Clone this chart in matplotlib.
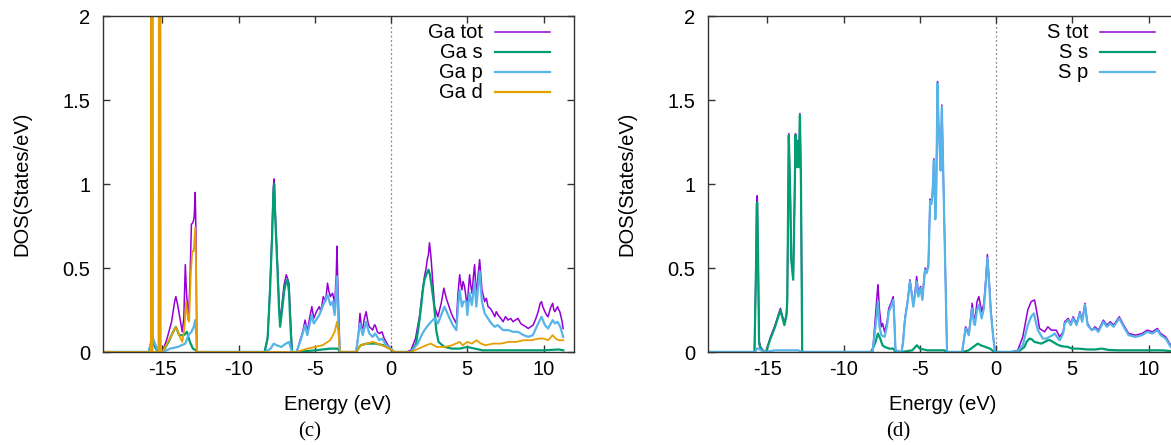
import matplotlib
matplotlib.use("Agg")
import matplotlib.pyplot as plt

plt.rcParams['font.family'] = ['Liberation Sans', 'DejaVu Sans']
plt.rcParams['axes.unicode_minus'] = False

# gnuplot default line colours
PURPLE = '#9400d3'
GREEN = '#009e73'
CYAN = '#56b4e9'
ORANGE = '#e69f00'

# ---------------- Ga projected DOS ----------------
ga_tot_e = [-18.9, -15.9, -15.76, -15.74, -15.66, -15.64, -15.4, -15.25, -15.22, -15.15, -15.13, -15.0,
            -14.7, -14.4, -14.2, -14.12, -14.0, -13.85, -13.7, -13.6, -13.5, -13.42, -13.3, -13.2,
            -13.1, -13.0, -12.92, -12.85, -12.8, -12.74,
            -8.3, -8.1, -7.95, -7.8, -7.72, -7.67, -7.6, -7.45, -7.35, -7.28, -7.15, -7.02, -6.88,
            -6.8, -6.7, -6.6, -6.5,
            -6.2, -6.0, -5.8, -5.64, -5.5, -5.35, -5.2, -5.07, -4.9, -4.71, -4.6, -4.45, -4.3, -4.17,
            -4.08, -3.98, -3.84, -3.7, -3.6, -3.55, -3.5, -3.45, -3.36,
            -2.3, -2.15, -2.04, -1.95, -1.86, -1.75, -1.64, -1.5, -1.43, -1.3, -1.21, -1.1, -1.04,
            -0.9, -0.77, -0.6, -0.45, -0.2, 0.0, 0.2,
            1.0, 1.3, 1.6, 1.86, 2.05, 2.19, 2.3, 2.37, 2.45, 2.52, 2.58, 2.63, 2.75, 2.85, 3.07,
            3.18, 3.29, 3.46, 3.62, 3.8, 3.95, 4.1, 4.28, 4.39, 4.5, 4.58, 4.65, 4.72, 4.82, 5.0,
            5.08, 5.15, 5.22, 5.31, 5.4, 5.48, 5.59, 5.7, 5.81, 5.96, 6.14, 6.25, 6.36, 6.5, 6.58,
            6.7, 6.8, 6.9, 7.02, 7.2, 7.35, 7.5, 7.68, 7.85, 8.0, 8.15, 8.33, 8.5, 8.66, 8.85, 9.0,
            9.15, 9.32, 9.5, 9.65, 9.78, 9.87, 9.95, 10.09, 10.2, 10.3, 10.45, 10.6, 10.68, 10.75,
            10.92, 11.0, 11.07, 11.2, 11.29]
ga_tot = [0, 0, 0.05, 6.0, 6.0, 0.08, 0.03, 0.02, 5.0, 5.0, 0.0, 0.0,
          0.08, 0.18, 0.3, 0.33, 0.28, 0.2, 0.12, 0.2, 0.52, 0.35, 0.19, 0.4,
          0.76, 0.77, 0.8, 0.95, 0.7, 0.0,
          0, 0.09, 0.37, 0.74, 0.99, 1.03, 0.84, 0.52, 0.29, 0.18, 0.29, 0.4, 0.46,
          0.44, 0.41, 0.2, 0.0,
          0, 0.06, 0.12, 0.19, 0.12, 0.2, 0.27, 0.2, 0.24, 0.27, 0.24, 0.33, 0.3, 0.41,
          0.36, 0.33, 0.35, 0.29, 0.45, 0.63, 0.42, 0.29, 0.0,
          0, 0.1, 0.23, 0.15, 0.14, 0.2, 0.24, 0.17, 0.15, 0.14, 0.13, 0.16, 0.16,
          0.12, 0.11, 0.12, 0.08, 0.04, 0.02, 0.0,
          0.0, 0.01, 0.08, 0.21, 0.36, 0.45, 0.5, 0.55, 0.58, 0.65, 0.6, 0.55, 0.4, 0.27, 0.21,
          0.25, 0.29, 0.38, 0.32, 0.27, 0.23, 0.2, 0.17, 0.35, 0.46, 0.4, 0.37, 0.42, 0.39, 0.27,
          0.38, 0.46, 0.4, 0.35, 0.45, 0.52, 0.33, 0.45, 0.55, 0.37, 0.3, 0.32, 0.27, 0.26, 0.25,
          0.23, 0.21, 0.24, 0.22, 0.2, 0.18, 0.21, 0.19, 0.2, 0.18, 0.19, 0.2, 0.17, 0.16, 0.15, 0.14,
          0.15, 0.16, 0.2, 0.24, 0.29, 0.3, 0.27, 0.24, 0.22, 0.21, 0.26, 0.29, 0.25, 0.24,
          0.27, 0.25, 0.24, 0.19, 0.14]

ga_s_e = [-18.9, -15.9, -15.75, -15.65, -15.55, -15.3, -15.0, -14.6, -14.3, -14.12, -13.9, -13.6,
          -13.4, -13.2, -13.0, -12.8, -12.74,
          -8.3, -8.1, -7.95, -7.8, -7.72, -7.67, -7.6, -7.45, -7.35, -7.28, -7.15, -7.02, -6.88,
          -6.8, -6.7, -6.6, -6.5,
          -6.2, -5.0, -4.0, -3.5, -3.36,
          -2.3, -2.0, -1.6, -1.0, -0.5, -0.1, 0.2,
          1.3, 1.64, 1.85, 1.97, 2.1, 2.19, 2.35, 2.46, 2.55, 2.63, 2.72, 2.81, 2.9, 2.96, 3.11,
          3.5, 4.0, 4.5, 5.0, 5.5, 6.0, 8.0, 10.0, 11.0, 11.3]
ga_s = [0, 0, 0.04, 0.06, 0.04, 0.0, 0, 0.06, 0.12, 0.15, 0.1, 0.1,
        0.12, 0.06, 0.02, 0.01, 0,
        0, 0.08, 0.35, 0.7, 0.95, 1.0, 0.8, 0.48, 0.25, 0.15, 0.25, 0.36, 0.42,
        0.43, 0.36, 0.15, 0.0,
        0, 0.01, 0.02, 0.02, 0,
        0, 0.04, 0.05, 0.05, 0.04, 0.02, 0,
        0, 0.05, 0.18, 0.27, 0.38, 0.43, 0.47, 0.49, 0.46, 0.41, 0.35, 0.29, 0.2, 0.13, 0.06,
        0.03, 0.02, 0.02, 0.03, 0.02, 0.01, 0.01, 0.01, 0.015, 0.01]

ga_p_e = [-18.9, -15.9, -15.75, -15.65, -15.5, -15.3, -15.0, -14.5, -14.0, -13.5, -13.3, -13.1,
          -12.95, -12.85, -12.78, -12.74,
          -8.3, -7.9, -7.7, -7.5, -7.2, -6.9, -6.7, -6.5,
          -6.2, -5.9, -5.64, -5.5, -5.2, -5.07, -4.71, -4.45, -4.17, -3.98, -3.84, -3.7, -3.55,
          -3.45, -3.36,
          -2.3, -2.04, -1.86, -1.64, -1.43, -1.21, -1.04, -0.77, -0.6, -0.3, 0.1, 0.2,
          1.3, 1.75, 2.0, 2.19, 2.52, 2.85, 3.07, 3.29, 3.5, 3.65, 3.84, 4.05, 4.28, 4.4, 4.5,
          4.65, 4.75, 4.93, 5.0, 5.15, 5.3, 5.48, 5.59, 5.7, 5.81, 5.96, 6.14, 6.35, 6.58, 6.8,
          7.0, 7.35, 7.7, 8.0, 8.33, 8.7, 9.0, 9.3, 9.6, 9.87, 10.09, 10.3, 10.6, 10.75, 10.92,
          11.1, 11.29]
ga_p = [0, 0, 0.06, 0.09, 0.05, 0.01, 0, 0.02, 0.03, 0.05, 0.1, 0.12,
        0.15, 0.19, 0.1, 0,
        0, 0.02, 0.05, 0.04, 0.03, 0.05, 0.06, 0.0,
        0, 0.08, 0.16, 0.1, 0.22, 0.17, 0.22, 0.28, 0.34, 0.28, 0.3, 0.22, 0.45,
        0.15, 0,
        0, 0.17, 0.1, 0.18, 0.11, 0.09, 0.11, 0.07, 0.08, 0.04, 0.01, 0,
        0, 0.05, 0.1, 0.13, 0.17, 0.2, 0.17, 0.22, 0.27, 0.24, 0.2, 0.16, 0.13, 0.28, 0.37,
        0.27, 0.3, 0.3, 0.22, 0.35, 0.28, 0.42, 0.27, 0.38, 0.48, 0.3, 0.23, 0.2, 0.17, 0.15,
        0.16, 0.13, 0.13, 0.12, 0.12, 0.1, 0.09, 0.1, 0.16, 0.21, 0.16, 0.14, 0.19, 0.17, 0.18,
        0.15, 0.09]

ga_d_e = [-18.9, -15.9, -15.76, -15.74, -15.66, -15.64, -15.25, -15.22, -15.15, -15.13, -15.0,
          -14.7, -14.4, -14.12, -13.9, -13.7, -13.55, -13.45, -13.35, -13.25, -13.15, -13.05,
          -12.95, -12.85, -12.8, -12.74,
          -6.2, -5.5, -5.0, -4.5, -4.0, -3.7, -3.55, -3.45, -3.36,
          -2.3, -2.0, -1.6, -1.2, -0.6, -0.1, 0.2,
          1.3, 1.8, 2.3, 2.6, 3.0, 3.5, 4.0, 4.5, 4.7, 5.0, 5.3, 5.6, 5.9, 6.2, 6.7, 7.2, 7.7,
          8.2, 8.7, 9.2, 9.7, 10.0, 10.3, 10.6, 10.8, 11.0, 11.3]
ga_d = [0, 0, 0.0, 6.0, 6.0, 0.0, 0.0, 5.0, 5.0, 0, 0,
        0.05, 0.1, 0.15, 0.1, 0.06, 0.15, 0.3, 0.22, 0.18, 0.45, 0.6,
        0.6, 0.74, 0.55, 0,
        0, 0.02, 0.03, 0.04, 0.07, 0.12, 0.18, 0.12, 0,
        0, 0.04, 0.05, 0.06, 0.04, 0.02, 0,
        0, 0.02, 0.04, 0.05, 0.03, 0.03, 0.04, 0.06, 0.04, 0.06, 0.05, 0.07, 0.05, 0.04, 0.05,
        0.05, 0.06, 0.06, 0.07, 0.07, 0.08, 0.08, 0.07, 0.1, 0.08, 0.07, 0.07]

# ---------------- S projected DOS ----------------
s_tot_e = [-18.9, -15.85, -15.75, -15.7, -15.67, -15.62, -15.55, -15.45, -15.2, -15.1, -14.8,
           -14.5, -14.15, -13.89, -13.75, -13.7, -13.6, -13.5, -13.44, -13.31, -13.22, -13.16,
           -13.09, -13.0, -12.94, -12.87, -12.8, -12.72,
           -8.1, -7.95, -7.8, -7.75, -7.65, -7.53, -7.45, -7.31, -7.15, -7.04, -6.9, -6.75,
           -6.68, -6.6,
           -6.2, -6.1, -5.98, -5.8, -5.65, -5.55, -5.43, -5.3, -5.21, -5.1, -4.95, -4.84, -4.66,
           -4.55, -4.44, -4.33, -4.25, -4.17, -4.08, -3.99, -3.93, -3.84, -3.78, -3.73, -3.64,
           -3.56, -3.47, -3.38, -3.3, -3.22,
           -2.23, -2.1, -2.0, -1.79, -1.65, -1.57, -1.45, -1.39, -1.25, -1.13, -0.95, -0.8,
           -0.68, -0.57, -0.45, -0.35, -0.2, -0.07,
           1.0, 1.42, 1.75, 2.08, 2.3, 2.52, 2.63, 2.85, 3.18, 3.4, 3.62, 3.95, 4.17, 4.4, 4.5,
           4.73, 4.9, 5.06, 5.28, 5.5, 5.65, 5.83, 6.0, 6.27, 6.49, 6.71, 7.04, 7.27, 7.49,
           7.71, 8.08, 8.37, 8.7, 9.14, 9.58, 9.91, 10.25, 10.58, 10.8, 11.13, 11.46]
s_tot = [0, 0, 0.52, 0.92, 0.93, 0.62, 0.07, 0.03, 0, 0, 0.09,
         0.16, 0.26, 0.17, 0.23, 0.31, 1.3, 0.91, 0.56, 0.44, 0.91, 1.3,
         1.11, 1.26, 1.11, 1.42, 1.01, 0,
         0, 0.17, 0.35, 0.4, 0.25, 0.15, 0.17, 0.12, 0.18, 0.26, 0.29, 0.33,
         0.21, 0.01,
         0, 0.07, 0.2, 0.31, 0.43, 0.36, 0.28, 0.37, 0.45, 0.35, 0.39, 0.32, 0.5,
         0.48, 0.52, 0.91, 0.89, 0.95, 1.15, 0.8, 0.94, 1.61, 1.36, 1.29, 1.09,
         1.47, 1.09, 0.7, 0.36, 0,
         0, 0.08, 0.15, 0.11, 0.22, 0.29, 0.2, 0.19, 0.3, 0.33, 0.24, 0.29,
         0.43, 0.58, 0.42, 0.26, 0.1, 0,
         0, 0.01, 0.09, 0.25, 0.3, 0.31, 0.26, 0.14, 0.12, 0.15, 0.13, 0.13, 0.09, 0.12, 0.18,
         0.2, 0.17, 0.21, 0.17, 0.24, 0.19, 0.29, 0.17, 0.13, 0.15, 0.13, 0.19, 0.16, 0.18,
         0.16, 0.21, 0.16, 0.11, 0.1, 0.11, 0.13, 0.12, 0.14, 0.11, 0.09, 0.04]

s_s_e = [-18.9, -15.85, -15.75, -15.7, -15.67, -15.62, -15.55, -15.45, -15.2, -15.1, -14.8,
         -14.5, -14.15, -13.89, -13.75, -13.7, -13.6, -13.5, -13.44, -13.31, -13.22, -13.16,
         -13.09, -13.0, -12.94, -12.87, -12.8, -12.72,
         -8.2, -7.95, -7.75, -7.6, -7.45, -7.3, -7.0, -6.75, -6.6,
         -6.2, -5.5, -5.2, -5.0, -4.5, -4.0, -3.4, -3.22,
         -2.2, -1.8, -1.5, -1.2, -1.0, -0.7, -0.4, -0.1,
         1.0, 1.5, 1.86, 2.0, 2.19, 2.35, 2.52, 2.75, 2.96, 3.2, 3.4, 3.55, 3.73, 4.0, 4.28,
         4.7, 5.0, 5.39, 6.0, 6.5, 6.93, 7.4, 8.0, 9.0, 10.0, 10.9, 11.5]
s_s = [0, 0, 0.5, 0.88, 0.89, 0.6, 0.05, 0.02, 0, 0, 0.08,
       0.15, 0.25, 0.16, 0.22, 0.3, 1.29, 0.9, 0.55, 0.43, 0.9, 1.29,
       1.1, 1.25, 1.1, 1.41, 1.0, 0,
       0, 0.05, 0.11, 0.08, 0.04, 0.03, 0.02, 0.02, 0,
       0, 0.01, 0.04, 0.02, 0.01, 0.01, 0.01, 0,
       0, 0.01, 0.03, 0.05, 0.04, 0.03, 0.02, 0,
       0, 0.005, 0.03, 0.06, 0.08, 0.075, 0.06, 0.055, 0.05, 0.06, 0.07, 0.07, 0.06, 0.045, 0.035,
       0.03, 0.02, 0.02, 0.015, 0.015, 0.02, 0.012, 0.01, 0.01, 0.01, 0.01, 0.005]

s_p_e = [-18.9, -15.8, -15.7, -15.6, -15.4, -15.2, -14.5, -14.0, -13.0, -12.72,
         -8.1, -7.95, -7.8, -7.75, -7.65, -7.53, -7.31, -7.15, -7.04, -6.9, -6.75, -6.68, -6.6,
         -6.2, -6.1, -5.98, -5.8, -5.65, -5.55, -5.43, -5.3, -5.21, -5.1, -4.95, -4.84, -4.66,
         -4.55, -4.44, -4.33, -4.25, -4.17, -4.08, -3.99, -3.93, -3.84, -3.78, -3.73, -3.64,
         -3.56, -3.47, -3.38, -3.3, -3.22,
         -2.23, -2.1, -2.0, -1.79, -1.65, -1.57, -1.45, -1.39, -1.25, -1.13, -0.95, -0.8,
         -0.68, -0.57, -0.45, -0.35, -0.2, -0.07,
         1.0, 1.42, 1.75, 2.08, 2.3, 2.48, 2.6, 2.74, 3.07, 3.3, 3.51, 3.7, 3.84, 4.0, 4.17,
         4.4, 4.5, 4.73, 4.9, 5.06, 5.28, 5.5, 5.65, 5.83, 6.0, 6.27, 6.49, 6.71, 7.04, 7.27,
         7.49, 7.71, 8.08, 8.37, 8.7, 9.14, 9.58, 9.91, 10.25, 10.58, 10.8, 11.13, 11.46]
s_p = [0, 0, 0.02, 0.02, 0.01, 0, 0.01, 0.01, 0.01, 0,
       0, 0.12, 0.25, 0.3, 0.15, 0.1, 0.09, 0.16, 0.24, 0.27, 0.31, 0.2, 0.01,
       0, 0.06, 0.19, 0.3, 0.42, 0.35, 0.27, 0.35, 0.42, 0.33, 0.38, 0.31, 0.49,
       0.47, 0.51, 0.9, 0.88, 0.94, 1.14, 0.79, 0.93, 1.6, 1.35, 1.28, 1.08,
       1.46, 1.08, 0.69, 0.35, 0,
       0, 0.08, 0.14, 0.1, 0.2, 0.26, 0.17, 0.16, 0.25, 0.28, 0.2, 0.26,
       0.4, 0.56, 0.4, 0.24, 0.1, 0,
       0, 0.005, 0.04, 0.16, 0.21, 0.23, 0.18, 0.13, 0.08, 0.08, 0.09, 0.1, 0.11, 0.09, 0.07,
       0.11, 0.17, 0.19, 0.16, 0.2, 0.16, 0.23, 0.18, 0.28, 0.16, 0.13, 0.14, 0.12, 0.18, 0.15,
       0.17, 0.15, 0.2, 0.15, 0.1, 0.09, 0.1, 0.12, 0.11, 0.13, 0.1, 0.08, 0.03]

XLIM = (-18.9, 12.0)
W, H = 1171, 445


def style_axes(ax):
    ax.set_xlim(*XLIM)
    ax.set_ylim(0, 2)
    ax.set_xticks([-15, -10, -5, 0, 5, 10])
    ax.set_yticks([0, 0.5, 1, 1.5, 2])
    ax.set_yticklabels(['0', '0.5', '1', '1.5', '2'])
    ax.tick_params(direction='in', top=True, right=True, length=5, width=1,
                   color='#333333', labelsize=14.5, labelcolor='black')
    ax.tick_params(axis='x', pad=6)
    ax.tick_params(axis='y', pad=9)
    for sp in ax.spines.values():
        sp.set_color('#333333')
        sp.set_linewidth(1.0)
    ax.axvline(0, color='#888888', lw=0.9, ls=(0, (1.5, 2)), zorder=1)


def key(ax, labels, colors, widths):
    # gnuplot style key: right-justified text with the line sample on its right
    for i, (lab, col, lw) in enumerate(zip(labels, colors, widths)):
        yy = 0.952 - i * 0.0595
        ax.text(0.807, yy, lab, transform=ax.transAxes, ha='right', va='center', fontsize=14.5)
        ax.plot([0.832, 0.949], [yy, yy], transform=ax.transAxes, color=col, lw=lw, clip_on=False)


fig = plt.figure(figsize=(W / 100, H / 100), dpi=100)

ax1 = fig.add_axes([103 / W, 93 / H, 471 / W, 336 / H])
style_axes(ax1)
ax1.plot(ga_tot_e, ga_tot, color=PURPLE, lw=1.1)
ax1.plot(ga_s_e, ga_s, color=GREEN, lw=1.6)
ax1.plot(ga_p_e, ga_p, color=CYAN, lw=1.6)
ax1.plot(ga_d_e, ga_d, color=ORANGE, lw=1.3)
key(ax1, ['Ga tot', 'Ga s', 'Ga p', 'Ga d'], [PURPLE, GREEN, CYAN, ORANGE], [1.1, 1.6, 1.6, 1.6])

ax2 = fig.add_axes([708 / W, 93 / H, 471 / W, 336 / H])
style_axes(ax2)
ax2.plot(s_tot_e, s_tot, color=PURPLE, lw=1.1)
ax2.plot(s_s_e, s_s, color=GREEN, lw=1.6)
ax2.plot(s_p_e, s_p, color=CYAN, lw=1.6)
key(ax2, ['S tot', 'S s', 'S p'], [PURPLE, GREEN, CYAN], [1.1, 1.6, 1.6])

# axis titles and panel captions
for cx, ycx, cap, capx in [(338, 22, '(c)', 310), (943, 627, '(d)', 898)]:
    fig.text(cx / W, 1 - 404 / H, 'Energy (eV)', ha='center', va='center', fontsize=14.5)
    fig.text(ycx / W, 1 - 184 / H, 'DOS(States/eV)', ha='center', va='center',
             rotation=90, fontsize=14.5)
    fig.text(capx / W, 1 - 432 / H, cap, ha='center', va='center', fontsize=15,
             family=['Liberation Serif', 'DejaVu Serif'])

fig.savefig('out.png', dpi=100)
